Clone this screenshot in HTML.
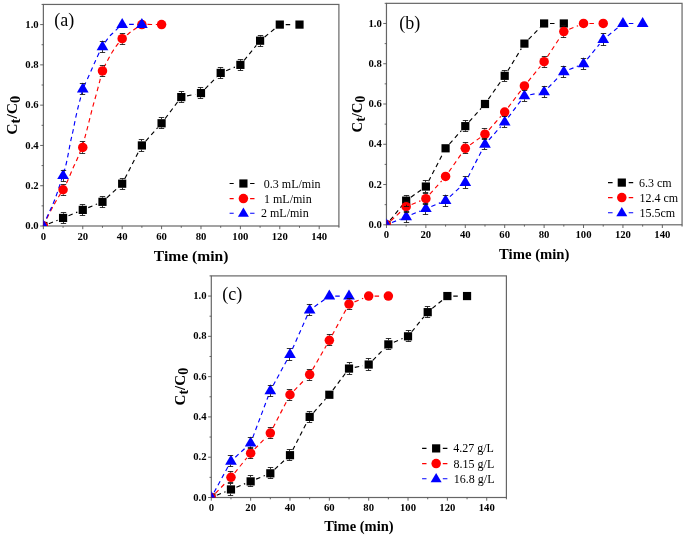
<!DOCTYPE html>
<html><head><meta charset="utf-8"><title>Breakthrough curves</title>
<style>
html,body{margin:0;padding:0;background:#fff;}
body{width:685px;height:539px;overflow:hidden;}
svg{display:block;will-change:transform;}
text{font-family:"Liberation Serif",serif;fill:#000;}
.tk{font-size:10.7px;font-weight:bold;}
.ttl{font-size:15.6px;font-weight:bold;}
.sub{font-size:14.4px;}
.pl{font-size:18px;}
.lg{font-size:12px;}
</style></head><body>
<svg width="685" height="539" viewBox="0 0 685 539">
<rect width="685" height="539" fill="#fff"/>
<g><rect x="43.37" y="4.45" width="295.53" height="221.55" fill="none" stroke="#666666" stroke-width="1.2"/><path d="M43.37 226v3.2M63.07 226v1.8M82.77 226v3.2M102.48 226v1.8M122.18 226v3.2M141.88 226v1.8M161.58 226v3.2M181.28 226v1.8M200.99 226v3.2M220.69 226v1.8M240.39 226v3.2M260.09 226v1.8M279.79 226v3.2M299.5 226v1.8M319.2 226v3.2M338.9 226v1.8M43.37 226h-3.2M43.37 205.86h-1.8M43.37 185.72h-3.2M43.37 165.58h-1.8M43.37 145.44h-3.2M43.37 125.3h-1.8M43.37 105.15h-3.2M43.37 85.01h-1.8M43.37 64.87h-3.2M43.37 44.73h-1.8M43.37 24.59h-3.2M43.37 4.45h-1.8" stroke="#555" stroke-width="0.9" fill="none"/><text x="43.37" y="239.6" text-anchor="middle" class="tk">0</text><text x="82.77" y="239.6" text-anchor="middle" class="tk">20</text><text x="122.18" y="239.6" text-anchor="middle" class="tk">40</text><text x="161.58" y="239.6" text-anchor="middle" class="tk">60</text><text x="200.99" y="239.6" text-anchor="middle" class="tk">80</text><text x="240.39" y="239.6" text-anchor="middle" class="tk">100</text><text x="279.79" y="239.6" text-anchor="middle" class="tk">120</text><text x="319.2" y="239.6" text-anchor="middle" class="tk">140</text><text x="38.67" y="229.15" text-anchor="end" class="tk">0.0</text><text x="38.67" y="188.87" text-anchor="end" class="tk">0.2</text><text x="38.67" y="148.59" text-anchor="end" class="tk">0.4</text><text x="38.67" y="108.3" text-anchor="end" class="tk">0.6</text><text x="38.67" y="68.02" text-anchor="end" class="tk">0.8</text><text x="38.67" y="27.74" text-anchor="end" class="tk">1.0</text><text x="191.13" y="261.2" text-anchor="middle" class="ttl" style="font-size:15.6px">Time (min)</text><text transform="translate(17.07 115.22) rotate(-90)" text-anchor="middle" class="ttl" style="font-size:15.6px">C<tspan style="font-size:14.43px" dy="3.2">t</tspan><tspan dy="-3.2">/C</tspan><tspan style="font-size:14.43px" dy="3.2">0</tspan></text><text x="54.3" y="26" class="pl">(a)</text><path d="M48.83 223.77L57.61 220.18M68.53 215.71L77.31 212.12M88.24 207.65L97.01 204.06M106.82 197.84L117.84 187.7M124.88 178.46L139.18 150.68M145.8 141.03L157.66 127.69M165.13 118.57L177.74 101.81M187.06 95.92L195.21 94.25M205.11 88.85L216.56 77.15M226.15 70.7L234.93 67.11M244.12 60.3L256.36 45.28M264.66 36.97L275.23 28.33M285.69 24.59L293.6 24.59" fill="none" stroke="#000" stroke-width="1.15" stroke-dasharray="4.5 3.6"/><path d="M43.2 225.8C44.53 223.13 48.9 214.18 51.2 209.8C53.5 205.42 55.05 202.88 57 199.5C58.95 196.12 61.15 192.58 62.9 189.5C64.65 186.42 65.88 184.42 67.5 181C69.12 177.58 71 172.62 72.6 169C74.2 165.38 75.57 162.93 77.1 159.3C78.63 155.67 80.35 151.38 81.8 147.2C83.25 143.02 84.12 140.38 85.8 134.2C87.48 128.02 90.2 116.58 91.9 110.1C93.6 103.62 94.7 100.1 96 95.3C97.3 90.5 98.65 85.35 99.7 81.3C100.75 77.25 101.18 74.1 102.3 71C103.42 67.9 104.98 65.45 106.4 62.7C107.82 59.95 109.2 57.22 110.8 54.5C112.4 51.78 114.3 48.73 116 46.4C117.7 44.07 118.78 42.73 121 40.5C123.22 38.27 127.17 34.8 129.3 33C131.43 31.2 132.32 30.73 133.8 29.7C135.28 28.67 136.87 27.65 138.2 26.8C139.53 25.95 137.92 24.97 141.8 24.6C145.68 24.23 158.22 24.6 161.5 24.6" fill="none" stroke="#ff0000" stroke-width="1.15" stroke-dasharray="4.5 3.6"/><path d="M43.2 225.8C44.03 223.92 46.23 218.97 48.2 214.5C50.17 210.03 52.58 205.42 55 199C57.42 192.58 60.78 182.08 62.7 176C64.62 169.92 65.23 168 66.5 162.5C67.77 157 69.22 148.25 70.3 143C71.38 137.75 72.12 135.17 73 131C73.88 126.83 74.72 122.1 75.6 118C76.48 113.9 77.43 109.88 78.3 106.4C79.17 102.92 80.03 100 80.8 97.1C81.57 94.2 81.85 91.9 82.9 89C83.95 86.1 85.53 83.2 87.1 79.7C88.67 76.2 90.73 71.53 92.3 68C93.87 64.47 94.83 62.05 96.5 58.5C98.17 54.95 100.17 50.33 102.3 46.7C104.43 43.07 107.38 39.1 109.3 36.7C111.22 34.3 112.35 33.72 113.8 32.3C115.25 30.88 116.63 29.48 118 28.2C119.37 26.92 118.05 25.2 122 24.6C125.95 24 138.42 24.6 141.7 24.6" fill="none" stroke="#0000ff" stroke-width="1.15" stroke-dasharray="4.5 3.6"/><clipPath id="cpa"><rect x="43.37" y="4.45" width="295.53" height="221.55"/></clipPath><g clip-path="url(#cpa)"><rect x="39.27" y="221.9" width="8.2" height="8.2" fill="#000"/><rect x="58.97" y="213.84" width="8.2" height="8.2" fill="#000"/><rect x="78.67" y="205.79" width="8.2" height="8.2" fill="#000"/><rect x="98.38" y="197.73" width="8.2" height="8.2" fill="#000"/><rect x="118.08" y="179.6" width="8.2" height="8.2" fill="#000"/><rect x="137.78" y="141.34" width="8.2" height="8.2" fill="#000"/><rect x="157.48" y="119.18" width="8.2" height="8.2" fill="#000"/><rect x="177.18" y="93" width="8.2" height="8.2" fill="#000"/><rect x="196.89" y="88.97" width="8.2" height="8.2" fill="#000"/><rect x="216.59" y="68.83" width="8.2" height="8.2" fill="#000"/><rect x="236.29" y="60.77" width="8.2" height="8.2" fill="#000"/><rect x="255.99" y="36.6" width="8.2" height="8.2" fill="#000"/><rect x="275.69" y="20.49" width="8.2" height="8.2" fill="#000"/><rect x="295.4" y="20.49" width="8.2" height="8.2" fill="#000"/><circle cx="43.37" cy="226" r="4.75" fill="#ff0000"/><circle cx="63.07" cy="189.75" r="4.75" fill="#ff0000"/><circle cx="82.77" cy="147.45" r="4.75" fill="#ff0000"/><circle cx="102.48" cy="70.91" r="4.75" fill="#ff0000"/><circle cx="122.18" cy="38.69" r="4.75" fill="#ff0000"/><circle cx="141.88" cy="24.59" r="4.75" fill="#ff0000"/><circle cx="161.58" cy="24.59" r="4.75" fill="#ff0000"/><path d="M37.52 229.42L49.22 229.42L43.37 219.52Z" fill="#0000ff"/><path d="M57.22 179.06L68.92 179.06L63.07 169.16Z" fill="#0000ff"/><path d="M76.92 92.46L88.62 92.46L82.77 82.56Z" fill="#0000ff"/><path d="M96.63 50.16L108.33 50.16L102.48 40.26Z" fill="#0000ff"/><path d="M116.33 28.01L128.03 28.01L122.18 18.11Z" fill="#0000ff"/><path d="M136.03 28.01L147.73 28.01L141.88 18.11Z" fill="#0000ff"/><path d="M63.5 212.5V213.84M63.5 222.04V223.5M60.8 212.5h5.4M60.8 223.5h5.4M82.5 204.5V205.79M82.5 213.99V215.5M79.8 204.5h5.4M79.8 215.5h5.4M102.5 196.5V197.73M102.5 205.93V207.5M99.8 196.5h5.4M99.8 207.5h5.4M122.5 178.5V179.6M122.5 187.8V189.5M119.8 178.5h5.4M119.8 189.5h5.4M141.5 139.5V141.34M141.5 149.54V151.5M138.8 139.5h5.4M138.8 151.5h5.4M161.5 117.5V119.18M161.5 127.38V128.5M158.8 117.5h5.4M158.8 128.5h5.4M181.5 91.5V93M181.5 101.2V102.5M178.8 91.5h5.4M178.8 102.5h5.4M200.5 87.5V88.97M200.5 97.17V98.5M197.8 87.5h5.4M197.8 98.5h5.4M220.5 67.5V68.83M220.5 77.03V78.5M217.8 67.5h5.4M217.8 78.5h5.4M240.5 59.5V60.77M240.5 68.97V70.5M237.8 59.5h5.4M237.8 70.5h5.4M260.5 35.5V36.6M260.5 44.8V46.5M257.8 35.5h5.4M257.8 46.5h5.4M63.5 184.5V185M63.5 194.5V195.5M60.8 184.5h5.4M60.8 195.5h5.4M82.5 141.5V142.7M82.5 152.2V153.5M79.8 141.5h5.4M79.8 153.5h5.4M102.5 65.5V66.16M102.5 75.66V76.5M99.8 65.5h5.4M99.8 76.5h5.4M122.5 33.5V33.94M122.5 43.44V44.5M119.8 33.5h5.4M119.8 44.5h5.4M63.5 179.05V181.5M60.8 170.5h5.4M60.8 181.5h5.4M82.5 92.44V94.5M79.8 83.5h5.4M79.8 94.5h5.4M102.5 50.15V52.5M99.8 41.5h5.4M99.8 52.5h5.4" stroke="#111" stroke-width="0.85" fill="none"/></g><path d="M229.6 183.5H233.7M250.1 183.5H254.5" stroke="#000" stroke-width="1.1"/><rect x="239.3" y="179.4" width="8.2" height="8.2" fill="#000"/><text x="263.8" y="187.5" class="lg">0.3 mL/min</text><path d="M229.6 198.6H233.7M250.1 198.6H254.5" stroke="#ff0000" stroke-width="1.1"/><circle cx="243.4" cy="198.6" r="4.75" fill="#ff0000"/><text x="264" y="202.6" class="lg">1 mL/min</text><path d="M229.6 213.3H233.7M250.1 213.3H254.5" stroke="#0000ff" stroke-width="1.1"/><path d="M237.9 216.86L248.9 216.86L243.4 207.55Z" fill="#0000ff"/><text x="261" y="217.3" class="lg">2 mL/min</text></g><g><rect x="386.46" y="3.34" width="295.6" height="221.46" fill="none" stroke="#666666" stroke-width="1.2"/><path d="M386.46 224.8v3.2M406.17 224.8v1.8M425.87 224.8v3.2M445.58 224.8v1.8M465.29 224.8v3.2M484.99 224.8v1.8M504.7 224.8v3.2M524.41 224.8v1.8M544.11 224.8v3.2M563.82 224.8v1.8M583.53 224.8v3.2M603.23 224.8v1.8M622.94 224.8v3.2M642.65 224.8v1.8M662.35 224.8v3.2M682.06 224.8v1.8M386.46 224.8h-3.2M386.46 204.67h-1.8M386.46 184.53h-3.2M386.46 164.4h-1.8M386.46 144.27h-3.2M386.46 124.14h-1.8M386.46 104h-3.2M386.46 83.87h-1.8M386.46 63.74h-3.2M386.46 43.61h-1.8M386.46 23.47h-3.2M386.46 3.34h-1.8" stroke="#555" stroke-width="0.9" fill="none"/><text x="386.46" y="238.4" text-anchor="middle" class="tk">0</text><text x="425.87" y="238.4" text-anchor="middle" class="tk">20</text><text x="465.29" y="238.4" text-anchor="middle" class="tk">40</text><text x="504.7" y="238.4" text-anchor="middle" class="tk">60</text><text x="544.11" y="238.4" text-anchor="middle" class="tk">80</text><text x="583.53" y="238.4" text-anchor="middle" class="tk">100</text><text x="622.94" y="238.4" text-anchor="middle" class="tk">120</text><text x="662.35" y="238.4" text-anchor="middle" class="tk">140</text><text x="381.76" y="227.95" text-anchor="end" class="tk">0.0</text><text x="381.76" y="187.68" text-anchor="end" class="tk">0.2</text><text x="381.76" y="147.42" text-anchor="end" class="tk">0.4</text><text x="381.76" y="107.15" text-anchor="end" class="tk">0.6</text><text x="381.76" y="66.89" text-anchor="end" class="tk">0.8</text><text x="381.76" y="26.62" text-anchor="end" class="tk">1.0</text><text x="534.26" y="258.8" text-anchor="middle" class="ttl" style="font-size:14.7px">Time (min)</text><text transform="translate(361.56 114.07) rotate(-90)" text-anchor="middle" class="ttl" style="font-size:14.8px">C<tspan style="font-size:13.69px" dy="3.2">t</tspan><tspan dy="-3.2">/C</tspan><tspan style="font-size:13.69px" dy="3.2">0</tspan></text><text x="399.3" y="28.6" class="pl">(b)</text><path d="M390.19 220.23L402.44 205.21M410.97 197.21L421.07 189.98M428.58 181.3L442.88 153.54M449.5 143.89L461.36 130.56M469.21 121.74L481.07 108.41M488.37 99.17L501.32 80.65M507.78 70.78L521.33 48.64M528.53 39.39L539.99 27.69M550.01 23.47L557.92 23.47" fill="none" stroke="#000" stroke-width="1.15" stroke-dasharray="4.5 3.6"/><path d="M390.8 220.81L401.82 210.67M411.63 204.45L420.41 200.86M429.8 194.22L441.66 180.89M448.96 171.65L461.91 153.13M470.09 144.86L480.19 137.63M488.92 129.8L500.78 116.46M508.25 107.34L520.86 90.6M528.14 81.31L540.38 66.3M547.34 56.78L560.6 36.47M569.28 29.29L578.07 25.7M589.43 23.47L597.33 23.47" fill="none" stroke="#ff0000" stroke-width="1.15" stroke-dasharray="4.5 3.6"/><path d="M391.92 222.57L400.71 218.98M411.63 214.52L420.41 210.93M431.33 206.46L440.12 202.87M449.92 196.65L460.94 186.51M467.99 177.28L482.29 149.51M488.92 139.86L500.78 126.53M508.25 117.41L520.86 100.66M530.19 94.77L538.33 93.11M548.24 87.71L559.69 76.01M569.28 69.56L578.07 65.97M587.26 59.17L599.5 44.15M607.8 35.85L618.37 27.21M628.84 23.47L636.75 23.47" fill="none" stroke="#0000ff" stroke-width="1.15" stroke-dasharray="4.5 3.6"/><clipPath id="cpb"><rect x="386.46" y="3.34" width="295.6" height="221.46"/></clipPath><g clip-path="url(#cpb)"><rect x="382.36" y="220.7" width="8.2" height="8.2" fill="#000"/><rect x="402.07" y="196.54" width="8.2" height="8.2" fill="#000"/><rect x="421.77" y="182.45" width="8.2" height="8.2" fill="#000"/><rect x="441.48" y="144.2" width="8.2" height="8.2" fill="#000"/><rect x="461.19" y="122.05" width="8.2" height="8.2" fill="#000"/><rect x="480.89" y="99.9" width="8.2" height="8.2" fill="#000"/><rect x="500.6" y="71.72" width="8.2" height="8.2" fill="#000"/><rect x="520.31" y="39.51" width="8.2" height="8.2" fill="#000"/><rect x="540.01" y="19.37" width="8.2" height="8.2" fill="#000"/><rect x="559.72" y="19.37" width="8.2" height="8.2" fill="#000"/><circle cx="386.46" cy="224.8" r="4.75" fill="#ff0000"/><circle cx="406.17" cy="206.68" r="4.75" fill="#ff0000"/><circle cx="425.87" cy="198.63" r="4.75" fill="#ff0000"/><circle cx="445.58" cy="176.48" r="4.75" fill="#ff0000"/><circle cx="465.29" cy="148.3" r="4.75" fill="#ff0000"/><circle cx="484.99" cy="134.2" r="4.75" fill="#ff0000"/><circle cx="504.7" cy="112.06" r="4.75" fill="#ff0000"/><circle cx="524.41" cy="85.88" r="4.75" fill="#ff0000"/><circle cx="544.11" cy="61.72" r="4.75" fill="#ff0000"/><circle cx="563.82" cy="31.53" r="4.75" fill="#ff0000"/><circle cx="583.53" cy="23.47" r="4.75" fill="#ff0000"/><circle cx="603.23" cy="23.47" r="4.75" fill="#ff0000"/><path d="M380.61 228.22L392.31 228.22L386.46 218.32Z" fill="#0000ff"/><path d="M400.32 220.16L412.02 220.16L406.17 210.26Z" fill="#0000ff"/><path d="M420.02 212.11L431.72 212.11L425.87 202.21Z" fill="#0000ff"/><path d="M439.73 204.06L451.43 204.06L445.58 194.16Z" fill="#0000ff"/><path d="M459.44 185.94L471.14 185.94L465.29 176.04Z" fill="#0000ff"/><path d="M479.14 147.68L490.84 147.68L484.99 137.78Z" fill="#0000ff"/><path d="M498.85 125.54L510.55 125.54L504.7 115.64Z" fill="#0000ff"/><path d="M518.56 99.37L530.26 99.37L524.41 89.47Z" fill="#0000ff"/><path d="M538.26 95.34L549.96 95.34L544.11 85.44Z" fill="#0000ff"/><path d="M557.97 75.21L569.67 75.21L563.82 65.31Z" fill="#0000ff"/><path d="M577.68 67.15L589.38 67.15L583.53 57.25Z" fill="#0000ff"/><path d="M597.38 42.99L609.08 42.99L603.23 33.09Z" fill="#0000ff"/><path d="M617.09 26.89L628.79 26.89L622.94 16.99Z" fill="#0000ff"/><path d="M636.8 26.89L648.5 26.89L642.65 16.99Z" fill="#0000ff"/><path d="M406.5 195.5V196.54M406.5 204.74V206.5M403.8 195.5h5.4M403.8 206.5h5.4M425.5 180.5V182.45M425.5 190.65V192.5M422.8 180.5h5.4M422.8 192.5h5.4M465.5 120.5V122.05M465.5 130.25V131.5M462.8 120.5h5.4M462.8 131.5h5.4M504.5 70.5V71.72M504.5 79.92V81.5M501.8 70.5h5.4M501.8 81.5h5.4M406.5 201.5V201.93M406.5 211.43V212.5M403.8 201.5h5.4M403.8 212.5h5.4M425.5 193.5V193.88M425.5 203.38V204.5M422.8 193.5h5.4M422.8 204.5h5.4M465.5 142.5V143.55M465.5 153.05V153.5M462.8 142.5h5.4M462.8 153.5h5.4M484.5 128.5V129.45M484.5 138.95V139.5M481.8 128.5h5.4M481.8 139.5h5.4M544.5 56.5V56.97M544.5 66.47V67.5M541.8 56.5h5.4M541.8 67.5h5.4M563.5 25.5V26.78M563.5 36.28V37.5M560.8 25.5h5.4M560.8 37.5h5.4M406.5 220.15V222.5M403.8 211.5h5.4M403.8 222.5h5.4M425.5 212.09V214.5M422.8 203.5h5.4M422.8 214.5h5.4M445.5 204.04V206.5M442.8 195.5h5.4M442.8 206.5h5.4M465.5 185.92V188.5M462.8 176.5h5.4M462.8 188.5h5.4M484.5 147.67V149.5M481.8 138.5h5.4M481.8 149.5h5.4M504.5 125.52V127.5M501.8 116.5h5.4M501.8 127.5h5.4M524.5 99.35V101.5M521.8 90.5h5.4M521.8 101.5h5.4M544.5 95.32V97.5M541.8 86.5h5.4M541.8 97.5h5.4M563.5 75.19V77.5M560.8 66.5h5.4M560.8 77.5h5.4M583.5 67.14V69.5M580.8 58.5h5.4M580.8 69.5h5.4M603.5 42.98V45.5M600.8 33.5h5.4M600.8 45.5h5.4" stroke="#111" stroke-width="0.85" fill="none"/></g><path d="M608 182.6H612.6M628.7 182.6H633.2" stroke="#000" stroke-width="1.1"/><rect x="617.7" y="178.5" width="8.2" height="8.2" fill="#000"/><text x="639" y="186.6" class="lg">6.3 cm</text><path d="M608 197.6H612.6M628.7 197.6H633.2" stroke="#ff0000" stroke-width="1.1"/><circle cx="621.8" cy="197.6" r="4.75" fill="#ff0000"/><text x="639.5" y="201.6" class="lg">12.4 cm</text><path d="M608 212.8H612.6M628.7 212.8H633.2" stroke="#0000ff" stroke-width="1.1"/><path d="M616.3 216.36L627.3 216.36L621.8 207.05Z" fill="#0000ff"/><text x="639.5" y="216.8" class="lg">15.5cm</text></g><g><rect x="211.3" y="275.9" width="295.1" height="221.6" fill="none" stroke="#666666" stroke-width="1.2"/><path d="M211.3 497.5v3.2M230.97 497.5v1.8M250.65 497.5v3.2M270.32 497.5v1.8M289.99 497.5v3.2M309.67 497.5v1.8M329.34 497.5v3.2M349.01 497.5v1.8M368.69 497.5v3.2M388.36 497.5v1.8M408.03 497.5v3.2M427.71 497.5v1.8M447.38 497.5v3.2M467.05 497.5v1.8M486.73 497.5v3.2M506.4 497.5v1.8M211.3 497.5h-3.2M211.3 477.35h-1.8M211.3 457.21h-3.2M211.3 437.06h-1.8M211.3 416.92h-3.2M211.3 396.77h-1.8M211.3 376.63h-3.2M211.3 356.48h-1.8M211.3 336.34h-3.2M211.3 316.19h-1.8M211.3 296.05h-3.2M211.3 275.9h-1.8" stroke="#555" stroke-width="0.9" fill="none"/><text x="211.3" y="510.6" text-anchor="middle" class="tk">0</text><text x="250.65" y="510.6" text-anchor="middle" class="tk">20</text><text x="289.99" y="510.6" text-anchor="middle" class="tk">40</text><text x="329.34" y="510.6" text-anchor="middle" class="tk">60</text><text x="368.69" y="510.6" text-anchor="middle" class="tk">80</text><text x="408.03" y="510.6" text-anchor="middle" class="tk">100</text><text x="447.38" y="510.6" text-anchor="middle" class="tk">120</text><text x="486.73" y="510.6" text-anchor="middle" class="tk">140</text><text x="206.6" y="500.65" text-anchor="end" class="tk">0.0</text><text x="206.6" y="460.36" text-anchor="end" class="tk">0.2</text><text x="206.6" y="420.07" text-anchor="end" class="tk">0.4</text><text x="206.6" y="379.78" text-anchor="end" class="tk">0.6</text><text x="206.6" y="339.49" text-anchor="end" class="tk">0.8</text><text x="206.6" y="299.2" text-anchor="end" class="tk">1.0</text><text x="358.85" y="531.3" text-anchor="middle" class="ttl" style="font-size:14.5px">Time (min)</text><text transform="translate(185 386.7) rotate(-90)" text-anchor="middle" class="ttl" style="font-size:15.1px">C<tspan style="font-size:13.97px" dy="3.2">t</tspan><tspan dy="-3.2">/C</tspan><tspan style="font-size:13.97px" dy="3.2">0</tspan></text><text x="222.3" y="299.8" class="pl">(c)</text><path d="M216.76 495.26L225.51 491.68M236.43 487.21L245.19 483.62M256.11 479.15L264.86 475.56M274.66 469.33L285.65 459.19M292.69 449.95L306.97 422.17M313.58 412.51L325.42 399.17M332.88 390.04L345.47 373.29M354.79 367.39L362.91 365.72M372.81 360.32L384.24 348.62M393.82 342.16L402.57 338.57M411.76 331.76L423.98 316.74M432.27 308.42L442.82 299.78M453.28 296.05L461.15 296.05" fill="none" stroke="#000" stroke-width="1.15" stroke-dasharray="4.5 3.6"/><path d="M215.42 493.28L226.85 481.58M234.7 472.78L246.92 457.76M254.77 448.96L266.2 437.26M273.02 427.79L287.3 400.01M294.12 390.54L305.54 378.83M312.61 369.5L326.4 345.48M332.15 335.18L346.2 309.29M354.47 301.87L363.23 298.28M374.59 296.05L382.46 296.05" fill="none" stroke="#ff0000" stroke-width="1.15" stroke-dasharray="4.5 3.6"/><path d="M214.11 492.31L228.16 466.42M235.31 457.24L246.31 447.11M252.72 437.58L268.25 396.25M273.13 385.54L287.18 359.65M292.39 349.07L307.27 315.54M314.46 306.71L324.54 299.48M335.24 296.05L343.11 296.05" fill="none" stroke="#0000ff" stroke-width="1.15" stroke-dasharray="4.5 3.6"/><clipPath id="cpc"><rect x="211.3" y="275.9" width="295.1" height="221.6"/></clipPath><g clip-path="url(#cpc)"><rect x="207.2" y="493.4" width="8.2" height="8.2" fill="#000"/><rect x="226.87" y="485.34" width="8.2" height="8.2" fill="#000"/><rect x="246.55" y="477.28" width="8.2" height="8.2" fill="#000"/><rect x="266.22" y="469.23" width="8.2" height="8.2" fill="#000"/><rect x="285.89" y="451.09" width="8.2" height="8.2" fill="#000"/><rect x="305.57" y="412.82" width="8.2" height="8.2" fill="#000"/><rect x="325.24" y="390.66" width="8.2" height="8.2" fill="#000"/><rect x="344.91" y="364.47" width="8.2" height="8.2" fill="#000"/><rect x="364.59" y="360.44" width="8.2" height="8.2" fill="#000"/><rect x="384.26" y="340.29" width="8.2" height="8.2" fill="#000"/><rect x="403.93" y="332.24" width="8.2" height="8.2" fill="#000"/><rect x="423.61" y="308.06" width="8.2" height="8.2" fill="#000"/><rect x="443.28" y="291.95" width="8.2" height="8.2" fill="#000"/><rect x="462.95" y="291.95" width="8.2" height="8.2" fill="#000"/><circle cx="211.3" cy="497.5" r="4.75" fill="#ff0000"/><circle cx="230.97" cy="477.35" r="4.75" fill="#ff0000"/><circle cx="250.65" cy="453.18" r="4.75" fill="#ff0000"/><circle cx="270.32" cy="433.03" r="4.75" fill="#ff0000"/><circle cx="289.99" cy="394.76" r="4.75" fill="#ff0000"/><circle cx="309.67" cy="374.61" r="4.75" fill="#ff0000"/><circle cx="329.34" cy="340.37" r="4.75" fill="#ff0000"/><circle cx="349.01" cy="304.1" r="4.75" fill="#ff0000"/><circle cx="368.69" cy="296.05" r="4.75" fill="#ff0000"/><circle cx="388.36" cy="296.05" r="4.75" fill="#ff0000"/><path d="M205.45 500.92L217.15 500.92L211.3 491.02Z" fill="#0000ff"/><path d="M225.12 464.65L236.82 464.65L230.97 454.75Z" fill="#0000ff"/><path d="M244.8 446.52L256.5 446.52L250.65 436.62Z" fill="#0000ff"/><path d="M264.47 394.14L276.17 394.14L270.32 384.24Z" fill="#0000ff"/><path d="M284.14 357.88L295.84 357.88L289.99 347.98Z" fill="#0000ff"/><path d="M303.82 313.56L315.52 313.56L309.67 303.66Z" fill="#0000ff"/><path d="M323.49 299.46L335.19 299.46L329.34 289.56Z" fill="#0000ff"/><path d="M343.16 299.46L354.86 299.46L349.01 289.56Z" fill="#0000ff"/><path d="M230.5 483.5V485.34M230.5 493.54V495.5M227.8 483.5h5.4M227.8 495.5h5.4M250.5 475.5V477.28M250.5 485.48V486.5M247.8 475.5h5.4M247.8 486.5h5.4M270.5 467.5V469.23M270.5 477.43V478.5M267.8 467.5h5.4M267.8 478.5h5.4M289.5 449.5V451.09M289.5 459.29V460.5M286.8 449.5h5.4M286.8 460.5h5.4M309.5 411.5V412.82M309.5 421.02V422.5M306.8 411.5h5.4M306.8 422.5h5.4M349.5 362.5V364.47M349.5 372.67V374.5M346.8 362.5h5.4M346.8 374.5h5.4M368.5 358.5V360.44M368.5 368.64V370.5M365.8 358.5h5.4M365.8 370.5h5.4M388.5 338.5V340.29M388.5 348.49V349.5M385.8 338.5h5.4M385.8 349.5h5.4M408.5 330.5V332.24M408.5 340.44V341.5M405.8 330.5h5.4M405.8 341.5h5.4M427.5 306.5V308.06M427.5 316.26V317.5M424.8 306.5h5.4M424.8 317.5h5.4M230.5 471.5V472.6M230.5 482.1V482.5M227.8 471.5h5.4M227.8 482.5h5.4M250.5 447.5V448.43M250.5 457.93V458.5M247.8 447.5h5.4M247.8 458.5h5.4M270.5 427.5V428.28M270.5 437.78V438.5M267.8 427.5h5.4M267.8 438.5h5.4M289.5 389.5V390.01M289.5 399.51V400.5M286.8 389.5h5.4M286.8 400.5h5.4M309.5 369.5V369.86M309.5 379.36V380.5M306.8 369.5h5.4M306.8 380.5h5.4M329.5 334.5V335.62M329.5 345.12V345.5M326.8 334.5h5.4M326.8 345.5h5.4M349.5 298.5V299.35M349.5 308.85V309.5M346.8 298.5h5.4M346.8 309.5h5.4M230.5 464.64V466.5M227.8 455.5h5.4M227.8 466.5h5.4M250.5 446.51V448.5M247.8 437.5h5.4M247.8 448.5h5.4M270.5 394.13V396.5M267.8 385.5h5.4M267.8 396.5h5.4M289.5 357.87V360.5M286.8 348.5h5.4M286.8 360.5h5.4M309.5 313.55V315.5M306.8 304.5h5.4M306.8 315.5h5.4" stroke="#111" stroke-width="0.85" fill="none"/></g><path d="M422.1 448.4H426.5M442.8 448.4H447.4" stroke="#000" stroke-width="1.1"/><rect x="432.05" y="444.3" width="8.2" height="8.2" fill="#000"/><text x="453.2" y="452.4" class="lg">4.27 g/L</text><path d="M422.1 463.6H426.5M442.8 463.6H447.4" stroke="#ff0000" stroke-width="1.1"/><circle cx="436.15" cy="463.6" r="4.75" fill="#ff0000"/><text x="453.6" y="467.6" class="lg">8.15 g/L</text><path d="M422.1 478.7H426.5M442.8 478.7H447.4" stroke="#0000ff" stroke-width="1.1"/><path d="M430.65 482.26L441.65 482.26L436.15 472.95Z" fill="#0000ff"/><text x="453.8" y="482.7" class="lg">16.8 g/L</text></g>
</svg>
</body></html>
